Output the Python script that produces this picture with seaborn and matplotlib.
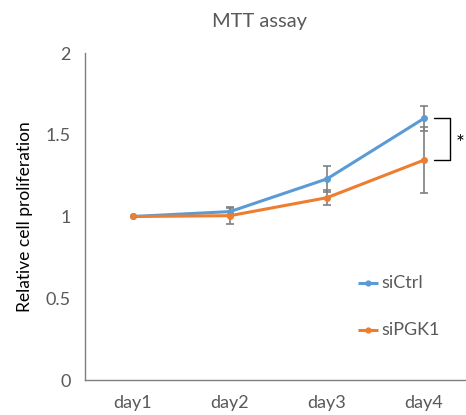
import matplotlib
matplotlib.use("Agg")
import matplotlib.pyplot as plt
import seaborn as sns
import pandas as pd

days = ["day1", "day2", "day3", "day4"]
ctrl = [1.0, 1.03, 1.23, 1.60]
ctrl_err = [0.0, 0.03, 0.08, 0.075]
pgk1 = [1.0, 1.005, 1.115, 1.345]
pgk1_err = [0.0, 0.05, 0.045, 0.2]
series = ["siCtrl", "siPGK1"]
colors = ["#5B9BD5", "#ED7D31"]

sns.set_theme(style="white")
plt.rcParams["font.family"] = ["Lato", "DejaVu Sans"]

df = pd.DataFrame({
    "day": days * 2,
    "x": list(range(len(days))) * 2,
    "value": ctrl + pgk1,
    "group": [series[0]] * len(days) + [series[1]] * len(days),
})

fig = plt.figure(figsize=(4.66, 4.15), dpi=100)
W, H = 466, 415
ax = fig.add_axes([84.5 / W, 35 / H, 388 / W, (380 - 53) / H])

# error bars first so lines sit on top
for vals, errs in [(ctrl, ctrl_err), (pgk1, pgk1_err)]:
    xs = [i for i, e in enumerate(errs) if e > 0]
    ax.errorbar(xs, [vals[i] for i in xs], yerr=[errs[i] for i in xs],
                fmt="none", ecolor="#808080", elinewidth=1.2, capsize=3,
                capthick=1.2, zorder=2)

sns.lineplot(data=df, x="x", y="value", hue="group", palette=colors,
             marker="o", markersize=5, markeredgewidth=0, linewidth=2.2,
             ax=ax, zorder=3, legend=False)

ax.set_xlim(-0.5, 3.5)
ax.set_ylim(0, 2)
ax.set_xticks(range(len(days)))
ax.set_xticklabels(days)
ax.set_yticks([0, 0.5, 1, 1.5, 2])
ax.set_yticklabels(["0", "0.5", "1", "1.5", "2"])
ax.tick_params(axis="both", labelsize=13, labelcolor="#595959", length=0, pad=10)
ax.tick_params(axis="x", pad=11)
for s in ["top", "right"]:
    ax.spines[s].set_visible(False)
for s in ["left", "bottom"]:
    ax.spines[s].set_color("#7f7f7f")
    ax.spines[s].set_linewidth(1.0)
ax.set_xlabel("")
ax.set_ylabel("Relative cell proliferation", fontsize=12.5, color="black", labelpad=9)
fig.text(260 / W, 1 - 22 / H, "MTT assay", ha="center", va="center",
         fontsize=14.5, color="#595959")

# significance bracket between day4 values
bx0, bx1 = 3.1, 3.27
ax.plot([bx0, bx1, bx1, bx0], [ctrl[3], ctrl[3], pgk1[3], pgk1[3]],
        color="black", lw=1.0, clip_on=False)
ax.text(3.37, (ctrl[3] + pgk1[3]) / 2 - 0.03, "*", ha="center", va="center",
        fontsize=15, color="black")

# legend
for i, (name, c) in enumerate(zip(series, colors)):
    ly = 0.297 - i * 0.144
    ax.plot([0.705, 0.757], [ly, ly], color=c, lw=2.2, transform=ax.transAxes,
            solid_capstyle="butt")
    ax.plot([0.731], [ly], marker="o", ms=4.5, mew=0, color=c, transform=ax.transAxes)
    ax.text(0.765, ly, name, transform=ax.transAxes, ha="left", va="center",
            fontsize=13, color="#595959")

fig.savefig("out.png", dpi=100)
